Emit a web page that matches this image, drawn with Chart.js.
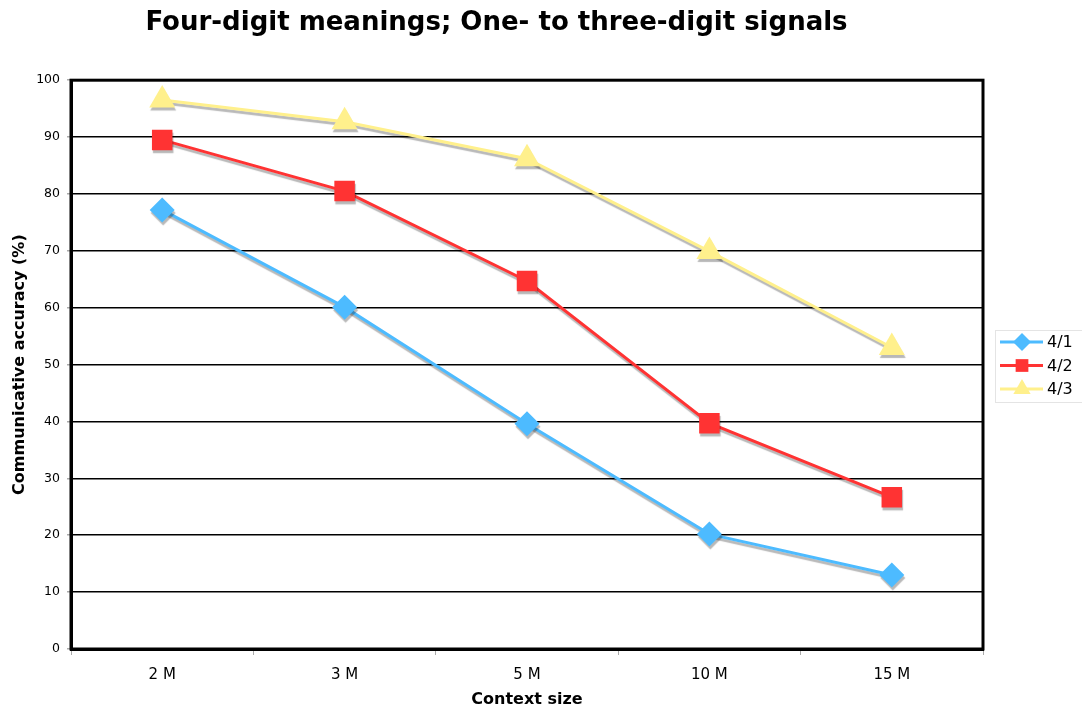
<!DOCTYPE html>
<html>
<head>
<meta charset="utf-8">
<script src="https://cdn.jsdelivr.net/npm/chart.js@4/dist/chart.umd.min.js"></script>
<style>
  html, body { margin: 0; padding: 0; background: #fff; }
  #wrap { width: 1082px; height: 711px; }
</style>
</head>
<body>
<div id="wrap"><canvas id="accChart" width="1082" height="711"></canvas></div>
<script>
// Chart data
const contextSizes = ["2 M", "3 M", "5 M", "10 M", "15 M"];
const acc41 = [77.2, 60.1, 39.6, 20.2, 13.0];
const acc42 = [89.5, 80.5, 64.7, 39.7, 26.7];
const acc43 = [96.5, 92.7, 86.2, 69.9, 53.0];
const seriesNames = ["4/1", "4/2", "4/3"];

const FONT = "'DejaVu Sans', Verdana, sans-serif";

// drop shadow under lines and markers
const shadowPlugin = {
    id: "shadow",
    beforeDatasetsDraw(chart) {
        const c = chart.ctx;
        c.save();
        c.shadowColor = "rgba(0,0,0,0.28)";
        c.shadowOffsetX = 1;
        c.shadowOffsetY = 3;
        c.shadowBlur = 1;
    },
    afterDatasetsDraw(chart) {
        chart.ctx.restore();
    }
};

// black frame round the plot + legend box on the right
const framePlugin = {
    id: "frame",
    afterDraw(chart) {
        const c = chart.ctx;
        const a = chart.chartArea;
        c.save();
        c.strokeStyle = "#000";
        c.lineWidth = 3;
        c.strokeRect(a.left, a.top, a.right - a.left, a.bottom - a.top);

        // legend
        const lx = 995, ly = 330;
        const sizes = [9, 9, 10];
        c.lineWidth = 1;
        c.strokeStyle = "#e4e4e4";
        c.strokeRect(lx + 0.5, ly + 0.5, 100, 72);
        c.font = "16px " + FONT;
        c.textBaseline = "middle";
        chart.data.datasets.forEach((ds, i) => {
            const y = ly + 12 + i * 23.5;
            c.strokeStyle = ds.borderColor;
            c.lineWidth = 3;
            c.beginPath();
            c.moveTo(lx + 5, y);
            c.lineTo(lx + 48, y);
            c.stroke();
            c.fillStyle = ds.backgroundColor;
            Chart.helpers.drawPoint(c, {pointStyle: ds.pointStyle, radius: sizes[i], rotation: 0}, lx + 27, y);
            c.fillStyle = "#000";
            c.fillText(ds.label, lx + 52, y + 1);
        });
        c.restore();
    }
};

const ctx = document.getElementById("accChart").getContext("2d");
new Chart(ctx, {
    type: "line",
    data: {
        labels: contextSizes,
        datasets: [
            {
                label: seriesNames[0],
                data: acc41,
                borderColor: "#4DBBFF",
                backgroundColor: "#4DBBFF",
                borderWidth: 3,
                pointStyle: "rectRot",
                pointRadius: 12.5,
                pointBorderWidth: 0
            },
            {
                label: seriesNames[1],
                data: acc42,
                borderColor: "#FF3333",
                backgroundColor: "#FF3333",
                borderWidth: 3,
                pointStyle: "rect",
                pointRadius: 14.5,
                pointBorderWidth: 0
            },
            {
                label: seriesNames[2],
                data: acc43,
                borderColor: "#FFF08C",
                backgroundColor: "#FFF08C",
                borderWidth: 3,
                pointStyle: "triangle",
                pointRadius: 15,
                pointBorderWidth: 0
            }
        ]
    },
    options: {
        responsive: false,
        animation: false,
        layout: { padding: { left: 10, right: 99, top: 0, bottom: 3 } },
        plugins: {
            legend: { display: false },
            tooltip: { enabled: false },
            title: {
                display: true,
                text: "Four-digit meanings; One- to three-digit signals",
                color: "#000",
                font: { family: FONT, size: 26, weight: "bold" },
                padding: { top: 8, bottom: 41 }
            }
        },
        scales: {
            x: {
                offset: true,
                afterFit: (scale) => { scale.height = 59; },
                grid: { offset: true, drawOnChartArea: false, tickLength: 6, color: "#aaa" },
                border: { color: "#000", width: 3 },
                ticks: { color: "#000", font: { family: FONT, size: 15, lineHeight: 1 }, padding: 12.5 },
                title: {
                    display: true,
                    text: "Context size",
                    color: "#000",
                    font: { family: FONT, size: 16, weight: "bold", lineHeight: 1 },
                    padding: { top: 4, bottom: 0 }
                }
            },
            y: {
                min: 0,
                max: 100,
                afterFit: (scale) => { scale.width = 61; },
                ticks: { stepSize: 10, color: "#000", font: { family: FONT, size: 12.5 }, padding: 7 },
                grid: { color: "#000", lineWidth: 1.5, tickLength: 4, tickColor: "#aaa" },
                border: { color: "#000", width: 3 },
                title: {
                    display: true,
                    text: "Communicative accuracy (%)",
                    color: "#000",
                    font: { family: FONT, size: 16, weight: "bold" },
                    padding: { top: 0, bottom: 0 }
                }
            }
        }
    },
    plugins: [shadowPlugin, framePlugin]
});
</script>
</body>
</html>
